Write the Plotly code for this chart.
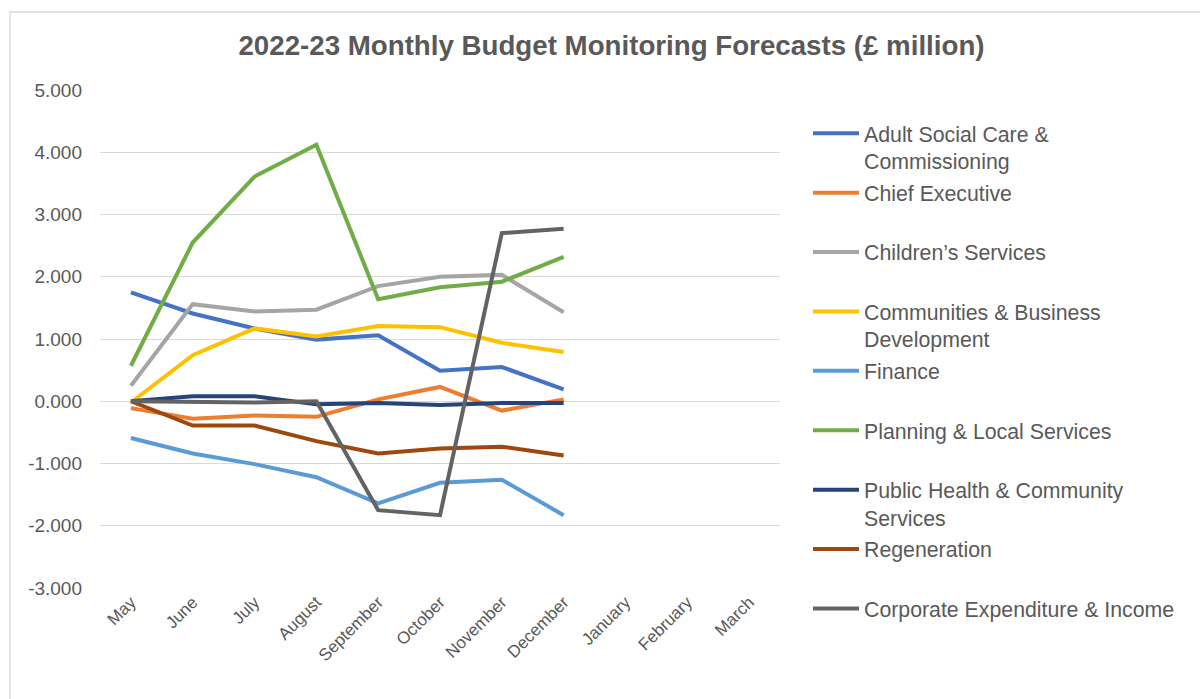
import plotly.graph_objects as go

months = ["May", "June", "July", "August", "September", "October", "November",
          "December", "January", "February", "March"]

adult_social_care = [1.75, 1.41, 1.17, 0.99, 1.06, 0.49, 0.55, 0.19]
chief_executive = [-0.11, -0.28, -0.23, -0.25, 0.03, 0.23, -0.15, 0.03]
childrens_services = [0.25, 1.56, 1.44, 1.47, 1.85, 2.00, 2.03, 1.43]
communities_business = [-0.02, 0.74, 1.17, 1.04, 1.21, 1.19, 0.94, 0.79]
finance = [-0.59, -0.84, -1.01, -1.22, -1.64, -1.31, -1.26, -1.83]
planning_local = [0.57, 2.55, 3.61, 4.12, 1.64, 1.83, 1.92, 2.32]
public_health = [0.00, 0.08, 0.08, -0.05, -0.03, -0.06, -0.03, -0.03]
regeneration = [0.00, -0.39, -0.39, -0.64, -0.84, -0.76, -0.73, -0.87]
corporate = [0.00, -0.01, -0.02, 0.00, -1.75, -1.83, 2.70, 2.77]

series_names = [
    "Adult Social Care &<br>Commissioning",
    "Chief Executive<br> ",
    "Children\u2019s Services<br> ",
    "Communities & Business<br>Development",
    "Finance<br> ",
    "Planning & Local Services<br> ",
    "Public Health & Community<br>Services",
    "Regeneration<br> ",
    "Corporate Expenditure & Income<br> ",
]
series_values = [adult_social_care, chief_executive, childrens_services,
                 communities_business, finance, planning_local, public_health,
                 regeneration, corporate]
series_colors = ["#4472C4", "#ED7D31", "#A5A5A5", "#FFC000", "#5B9BD5",
                 "#70AD47", "#264478", "#9E480E", "#636363"]

y_ticks = [-3, -2, -1, 0, 1, 2, 3, 4, 5]

fig = go.Figure()
for i, (name, vals, col) in enumerate(zip(series_names, series_values, series_colors)):
    fig.add_trace(go.Scatter(
        x=months[:len(vals)], y=vals, name=name, mode="lines",
        line=dict(color=col, width=4), legendgroup=f"g{i}",
    ))

FONT = "Liberation Sans, Arial, sans-serif"
GREY = "#595959"

L, R, T, B = 100, 420, 90, 111
W, H = 1200, 699
pw, ph = W - L - R, H - T - B

fig.update_layout(
    width=W, height=H,
    margin=dict(l=L, r=R, t=T, b=B),
    paper_bgcolor="white", plot_bgcolor="white",
    font=dict(family=FONT, color=GREY),
    title=dict(text="<b>2022-23 Monthly Budget Monitoring Forecasts (£ million)</b>",
               x=(238 + 985) / 2 / W, xanchor="center", y=1 - 45 / H, yanchor="middle",
               font=dict(size=27.7, color=GREY, family=FONT)),
    showlegend=True,
    legend=dict(x=(808 - L) / pw, xanchor="left", y=1 - (113 - T) / ph, yanchor="top",
                font=dict(size=21.3, color=GREY, family=FONT),
                valign="top", traceorder="grouped", tracegroupgap=1,
                itemwidth=46, maxheight=700,
                bgcolor="rgba(0,0,0,0)"),
    xaxis=dict(type="category", categoryorder="array", categoryarray=months,
               tickvals=months, ticktext=months, range=[-0.5, len(months) - 0.5],
               tickangle=-45, tickfont=dict(size=17, color=GREY),
               showgrid=False, showline=False, ticks="", zeroline=False),
    yaxis=dict(range=[-3, 5], tickvals=y_ticks,
               ticktext=[f"{v:.3f}" for v in y_ticks],
               tickfont=dict(size=19, color=GREY),
               showgrid=True, gridcolor="#D9D9D9", gridwidth=1.3,
               zeroline=False, showline=False, ticks="", ticklabelstandoff=17),
    shapes=[dict(type="rect", xref="paper", yref="paper",
                 x0=(10 - L) / pw, x1=(1210 - L) / pw,
                 y0=1 - (710 - T) / ph, y1=1 - (12 - T) / ph,
                 line=dict(color="#D9D9D9", width=1.3), fillcolor="rgba(0,0,0,0)",
                 layer="below")],
)

fig.write_html("out.html")
